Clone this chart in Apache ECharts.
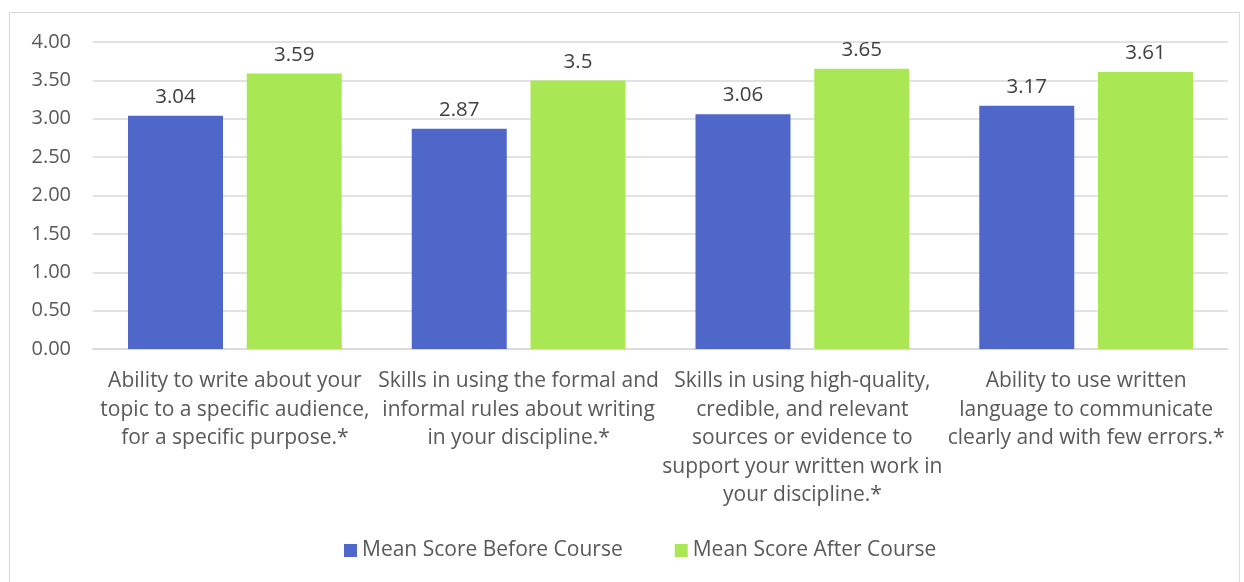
<!DOCTYPE html>
<html>
<head>
<meta charset="utf-8">
<script src="https://cdn.jsdelivr.net/npm/echarts@6/dist/echarts.min.js"></script>
<style>
  html, body { margin: 0; padding: 0; background: #fff; }
  #chart { width: 1244px; height: 582px; }
</style>
</head>
<body>
<div id="chart"></div>
<script>
var categories = [
    'Ability to write about your\ntopic to a specific audience,\nfor a specific purpose.*',
    'Skills in using the formal and\ninformal rules about writing\nin your discipline.*',
    'Skills in using high-quality,\ncredible, and relevant\nsources or evidence to\nsupport your written work in\nyour discipline.*',
    'Ability to use written\nlanguage to communicate\nclearly and with few errors.*'
];
var beforeScores = [3.04, 2.87, 3.06, 3.17];
var afterScores = [3.59, 3.5, 3.65, 3.61];
var yTicks = [0, 4, 0.5];   // min, max, step

var fontName = '"Open Sans", Lato, sans-serif';
var textColor = '#595959';

var chart = echarts.init(document.getElementById('chart'));

//bar label
var barLabel = {
    show: true,
    position: 'top',
    distance: 8,
    color: '#404040',
    fontSize: 20.5,
    fontFamily: fontName
};

var options = {
    animation: false,
    graphic: [{
        type: 'rect',
        shape: {x: 9.5, y: 12.5, width: 1230, height: 580},
        style: {fill: 'none', stroke: '#d9d9d9', lineWidth: 1},
        silent: true
    }],
    grid: {
        left: 93,
        right: 16,
        top: 42,
        bottom: 233
    },
    legend: {
        bottom: 16,
        left: 339,
        itemWidth: 13,
        itemHeight: 13,
        itemGap: 52,
        icon: 'rect',
        textStyle: {color: textColor, fontSize: 21, fontFamily: fontName},
        data: ['Mean Score Before Course', 'Mean Score After Course']
    },
    xAxis: {
        type: 'category',
        data: categories,
        axisTick: {show: false},
        axisLine: {lineStyle: {color: '#d9d9d9', width: 1.5}},
        axisLabel: {
            interval: 0,
            margin: 18,
            color: textColor,
            fontSize: 21,
            lineHeight: 28.5,
            fontFamily: fontName,
            verticalAlign: 'top'
        }
    },
    yAxis: {
        type: 'value',
        min: yTicks[0],
        max: yTicks[1],
        interval: yTicks[2],
        axisLine: {show: false},
        axisTick: {show: false},
        splitLine: {lineStyle: {color: '#d9d9d9', width: 1.5}},
        axisLabel: {
            margin: 22,
            color: textColor,
            fontSize: 20,
            fontFamily: fontName,
            formatter: function (v) { return v.toFixed(2); }
        }
    },
    series: [
        {
            name: 'Mean Score Before Course',
            type: 'bar',
            data: beforeScores,
            barWidth: 95,
            barGap: '25%',
            itemStyle: {color: '#4f67c9'},
            label: barLabel
        },
        {
            name: 'Mean Score After Course',
            type: 'bar',
            data: afterScores,
            barWidth: 95,
            barGap: '25%',
            itemStyle: {color: '#a9e854'},
            label: barLabel
        }
    ]
};

chart.setOption(options);
</script>
</body>
</html>
